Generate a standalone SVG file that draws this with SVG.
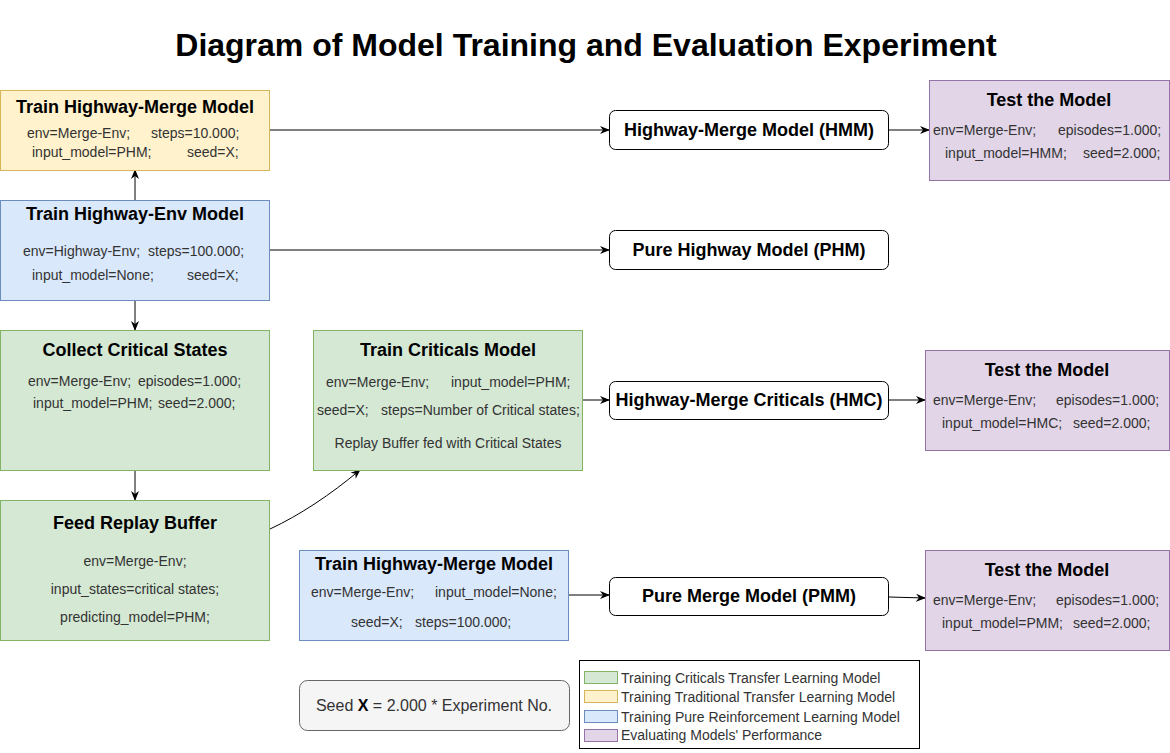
<svg xmlns="http://www.w3.org/2000/svg" width="1170" height="753" viewBox="0 0 1170 753">
<style>
text{font-family:"Liberation Sans",Arial,sans-serif;}
.t{font-size:32px;font-weight:bold;fill:#000;text-anchor:middle}
.h{font-size:18px;font-weight:bold;fill:#000;text-anchor:middle}
.b{font-size:14px;fill:#333}
.bc{font-size:14px;fill:#333;text-anchor:middle}
.m{font-size:18px;font-weight:bold;fill:#000;text-anchor:middle}
.lg{font-size:14px;fill:#333}
.y{fill:#fff2cc;stroke:#d6b656}
.bl{fill:#dae8fc;stroke:#6c8ebf}
.g{fill:#d5e8d4;stroke:#82b366}
.p{fill:#e1d5e7;stroke:#9673a6}
.r{fill:#fff;stroke:#000}
.c{fill:none;stroke:#000;stroke-width:1;marker-end:url(#a)}
</style>
<defs>
<marker id="a" viewBox="0 0 10 10" refX="9" refY="5" markerWidth="10" markerHeight="10" markerUnits="userSpaceOnUse" orient="auto">
<path d="M0,1 L10,5 L0,9 L3,5 Z" fill="#000"/>
</marker>
</defs>
<rect width="1170" height="753" fill="#fff"/>
<text class="t" x="586" y="56">Diagram of Model Training and Evaluation Experiment</text>

<g id="connectors">
<path class="c" d="M270,130 L609,130"/>
<path class="c" d="M889,130 L929,130"/>
<path class="c" d="M135,200 L135,170"/>
<path class="c" d="M270,250 L609,250"/>
<path class="c" d="M135,300 L135,330"/>
<path class="c" d="M135,470 L135,500"/>
<path class="c" d="M270,529 C300,515 330,495 360,470"/>
<path class="c" d="M583,400 L609,400"/>
<path class="c" d="M889,400 L925,400"/>
<path class="c" d="M569,595 L609,595"/>
<path class="c" d="M889,597 L925,598"/>
</g>

<g id="train-hmm">
<rect class="y" x="0.5" y="90.5" width="269" height="80"/>
<text class="h" x="135" y="113">Train Highway-Merge Model</text>
<text class="b" x="27" y="138">env=Merge-Env;</text>
<text class="b" x="151" y="138">steps=10.000;</text>
<text class="b" x="32" y="157">input_model=PHM;</text>
<text class="b" x="187" y="157">seed=X;</text>
</g>

<g id="train-highway-env">
<rect class="bl" x="0.5" y="200.5" width="269" height="100"/>
<text class="h" x="135" y="220">Train Highway-Env Model</text>
<text class="b" x="23" y="256">env=Highway-Env;</text>
<text class="b" x="148" y="256">steps=100.000;</text>
<text class="b" x="32" y="280">input_model=None;</text>
<text class="b" x="187" y="280">seed=X;</text>
</g>

<g id="collect">
<rect class="g" x="0.5" y="330.5" width="269" height="140"/>
<text class="h" x="135" y="356">Collect Critical States</text>
<text class="b" x="28" y="386">env=Merge-Env;</text>
<text class="b" x="138" y="386">episodes=1.000;</text>
<text class="b" x="33" y="408">input_model=PHM;</text>
<text class="b" x="158" y="408">seed=2.000;</text>
</g>

<g id="feed">
<rect class="g" x="0.5" y="500.5" width="269" height="140"/>
<text class="h" x="135" y="529">Feed Replay Buffer</text>
<text class="bc" x="135" y="566">env=Merge-Env;</text>
<text class="bc" x="135" y="594">input_states=critical states;</text>
<text class="bc" x="135" y="622">predicting_model=PHM;</text>
</g>

<g id="train-criticals">
<rect class="g" x="313.5" y="330.5" width="269" height="140"/>
<text class="h" x="448" y="356">Train Criticals Model</text>
<text class="b" x="326" y="387">env=Merge-Env;</text>
<text class="b" x="451" y="387">input_model=PHM;</text>
<text class="b" x="317" y="415">seed=X;</text>
<text class="b" x="381" y="415">steps=Number of Critical states;</text>
<text class="bc" x="448" y="448">Replay Buffer fed with Critical States</text>
</g>

<g id="train-hmm-pure">
<rect class="bl" x="299.5" y="550.5" width="269" height="90"/>
<text class="h" x="434" y="570">Train Highway-Merge Model</text>
<text class="b" x="311" y="597">env=Merge-Env;</text>
<text class="b" x="435" y="597">input_model=None;</text>
<text class="b" x="351" y="627">seed=X;</text>
<text class="b" x="415" y="627">steps=100.000;</text>
</g>

<g id="hmm">
<rect class="r" x="609.5" y="110.5" width="279" height="39" rx="6"/>
<text class="m" x="749" y="136">Highway-Merge Model (HMM)</text>
</g>
<g id="phm">
<rect class="r" x="609.5" y="230.5" width="279" height="39" rx="6"/>
<text class="m" x="749" y="256">Pure Highway Model (PHM)</text>
</g>
<g id="hmc">
<rect class="r" x="609.5" y="381.5" width="279" height="38" rx="6"/>
<text class="m" x="749" y="406">Highway-Merge Criticals (HMC)</text>
</g>
<g id="pmm">
<rect class="r" x="609.5" y="577.5" width="279" height="38" rx="6"/>
<text class="m" x="749" y="602">Pure Merge Model (PMM)</text>
</g>

<g id="test-hmm">
<rect class="p" x="929.5" y="80.5" width="240" height="100"/>
<text class="h" x="1049" y="106">Test the Model</text>
<text class="b" x="933" y="135">env=Merge-Env;</text>
<text class="b" x="1058" y="135">episodes=1.000;</text>
<text class="b" x="945" y="158">input_model=HMM;</text>
<text class="b" x="1083" y="158">seed=2.000;</text>
</g>
<g id="test-hmc">
<rect class="p" x="925.5" y="350.5" width="244" height="100"/>
<text class="h" x="1047" y="376">Test the Model</text>
<text class="b" x="933" y="405">env=Merge-Env;</text>
<text class="b" x="1056" y="405">episodes=1.000;</text>
<text class="b" x="942" y="428">input_model=HMC;</text>
<text class="b" x="1073" y="428">seed=2.000;</text>
</g>
<g id="test-pmm">
<rect class="p" x="925.5" y="550.5" width="244" height="100"/>
<text class="h" x="1047" y="576">Test the Model</text>
<text class="b" x="933" y="605">env=Merge-Env;</text>
<text class="b" x="1056" y="605">episodes=1.000;</text>
<text class="b" x="942" y="628">input_model=PMM;</text>
<text class="b" x="1073" y="628">seed=2.000;</text>
</g>

<g id="seed-note">
<rect x="299.5" y="680.5" width="270" height="50" rx="8" fill="#f5f5f5" stroke="#666"/>
<text x="434" y="711" style="font-size:16px;fill:#333;text-anchor:middle">Seed <tspan font-weight="bold" fill="#000">X</tspan> = 2.000 * Experiment No.</text>
</g>

<g id="legend">
<rect x="579.5" y="660.5" width="340" height="88" fill="#fff" stroke="#000"/>
<rect class="g" x="584.5" y="671.5" width="33" height="12"/>
<text class="lg" x="621" y="683">Training Criticals Transfer Learning Model</text>
<rect class="y" x="584.5" y="690.5" width="33" height="12"/>
<text class="lg" x="621" y="702">Training Traditional Transfer Learning Model</text>
<rect class="bl" x="584.5" y="710.5" width="33" height="12"/>
<text class="lg" x="621" y="722">Training Pure Reinforcement Learning Model</text>
<rect class="p" x="584.5" y="729.5" width="33" height="12"/>
<text class="lg" x="621" y="740">Evaluating Models' Performance</text>
</g>
</svg>
